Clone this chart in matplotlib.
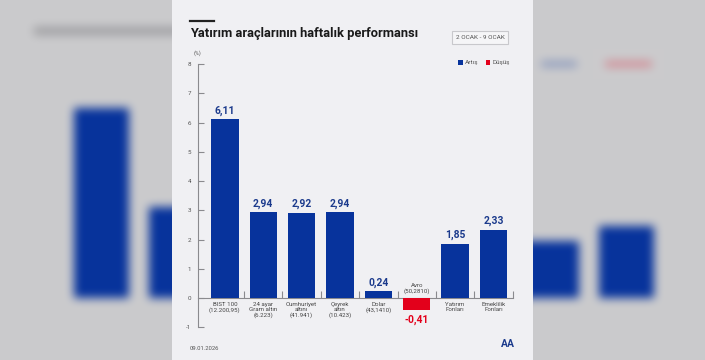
import matplotlib.pyplot as plt
from matplotlib.patches import Rectangle
import numpy as np

plt.rcParams['font.family'] = ['Roboto', 'DejaVu Sans']

categories = ['BIST 100\n(12.200,95)', '24 ayar\nGram altın\n(6.223)', 'Cumhuriyet\naltını\n(41.941)',
              'Çeyrek\naltın\n(10.423)', 'Dolar\n(43,1410)', 'Avro\n(50,2810)',
              'Yatırım\nFonları', 'Emeklilik\nFonları']
values = [6.11, 2.94, 2.92, 2.94, 0.24, -0.41, 1.85, 2.33]
value_labels = ['6,11', '2,94', '2,92', '2,94', '0,24', '-0,41', '1,85', '2,33']
y_ticks = [-1, 0, 1, 2, 3, 4, 5, 6, 7, 8]

BLUE = '#07339c'
RED = '#e3001b'
PANEL = '#f0f0f3'
W, H = 705, 360


def blur(img, r, n=3):
    # repeated box blur along both axes
    k = np.ones(2 * r + 1) / (2 * r + 1)
    out = img.copy()
    for _ in range(n):
        for ax_ in (0, 1):
            pad = [(r, r) if a == ax_ else (0, 0) for a in range(3)]
            p = np.pad(out, pad, mode='edge')
            out = np.apply_along_axis(lambda m: np.convolve(m, k, mode='valid'), ax_, p)
    return out


# stretched copy of the chart, rendered then blurred for the backdrop
bfig = plt.figure(figsize=(W / 100, H / 100), dpi=100)
bfig.patch.set_facecolor('#cbcbcd')
bg = bfig.add_axes([0, 0, 1, 1])
bg.set_xlim(-1.353, 8.047)
bg.set_ylim(-2.0, 9.6)
bg.axis('off')
x = np.arange(len(values))
bg.bar(x, values, width=0.73, color=[BLUE if v >= 0 else RED for v in values], lw=0)
bg.plot([-0.85, 1.3], [8.6, 8.6], color='#8f8f92', lw=6, alpha=0.7)
bg.plot([5.9, 6.3], [7.55, 7.55], color=BLUE, lw=4, alpha=0.35)
bg.plot([6.75, 7.3], [7.55, 7.55], color=RED, lw=4, alpha=0.35)
bfig.canvas.draw()
img = np.asarray(bfig.canvas.buffer_rgba())[:, :, :3].astype(float) / 255
plt.close(bfig)
img = blur(img, 4, 3)

fig = plt.figure(figsize=(W / 100, H / 100), dpi=100)
fig.figimage(np.clip(img, 0, 1), xo=0, yo=0, origin='upper', zorder=0)

# central panel
fig.add_artist(Rectangle((172 / W, 0), 361 / W, 1, transform=fig.transFigure,
                         facecolor=PANEL, edgecolor='none', zorder=1))

ax = fig.add_axes([198 / W, 32.7 / H, 314.7 / W, 263.3 / H], zorder=2)
ax.patch.set_alpha(0)
ax.bar(x, values, width=0.715, color=[BLUE if v >= 0 else RED for v in values], zorder=3)
ax.set_xlim(-0.7, 7.5)
ax.set_ylim(-1, 8)

for s in ['top', 'right']:
    ax.spines[s].set_visible(False)
ax.spines['bottom'].set_position(('data', 0))
ax.spines['bottom'].set_bounds(-0.7, 7.5)
for s in ['left', 'bottom']:
    ax.spines[s].set_color('#8a8a8e')
    ax.spines[s].set_linewidth(0.8)
ax.set_xticks(np.arange(0.5, 8, 1))
ax.set_xticklabels([])
ax.tick_params(axis='x', direction='in', length=5, color='#8a8a8e', width=0.8)
ax.set_yticks(y_ticks)
ax.set_yticklabels([str(t) for t in y_ticks])
ax.tick_params(axis='y', direction='in', length=4, color='#8a8a8e', width=0.8,
               labelsize=4.5, labelcolor='#555555', pad=5)

for i, (v, lab, cat) in enumerate(zip(values, value_labels, categories)):
    if v >= 0:
        ax.annotate(lab, (i, v), xytext=(0, 2.5), textcoords='offset points', ha='center',
                    va='bottom', fontsize=7.4, fontweight='bold', color='#1b3a8c')
        ax.annotate(cat, (i, 0), xytext=(0, -3), textcoords='offset points', ha='center',
                    va='top', fontsize=4.4, color='#444444', linespacing=1.05)
    else:
        ax.annotate(lab, (i, v), xytext=(0, -3), textcoords='offset points', ha='center',
                    va='top', fontsize=7.4, fontweight='bold', color=RED)
        ax.annotate(cat, (i, 0), xytext=(0, 3), textcoords='offset points', ha='center',
                    va='bottom', fontsize=4.4, color='#444444', linespacing=1.05)

ax.text(0, 1.03, '(%)', transform=ax.transAxes, ha='center', va='bottom', fontsize=4, color='#555555')

# header
fig.add_artist(plt.Line2D([190 / W, 214 / W], [1 - 21 / H] * 2, color='#222222', lw=1.6, zorder=4))
fig.text(190 / W, 1 - 34 / H, 'Yatırım araçlarının haftalık performansı', ha='left', va='center',
         fontsize=9.3, fontweight='bold', color='#1a1a1a', zorder=4)
fig.text(480 / W, 1 - 37.5 / H, '2 OCAK - 9 OCAK', ha='center', va='center', fontsize=4.6,
         color='#555555', zorder=4,
         bbox=dict(boxstyle='square,pad=0.6', facecolor='#f5f5f7', edgecolor='#c8c8cc', lw=0.8))

# legend
for xs, col, lab in [(458, BLUE, 'Artış'), (486, RED, 'Düşüş')]:
    fig.add_artist(Rectangle((xs / W, 1 - 64.5 / H), 4.5 / W, 4.5 / H, transform=fig.transFigure,
                             facecolor=col, edgecolor='none', zorder=4))
    fig.text((xs + 6.5) / W, 1 - 62.5 / H, lab, ha='left', va='center', fontsize=4.6,
             color='#555555', zorder=4)

fig.text(190 / W, 1 - 348 / H, '09.01.2026', ha='left', va='center', fontsize=4.2, color='#555555', zorder=4)
fig.text(508 / W, 1 - 344 / H, 'AA', ha='center', va='center', fontsize=7.5, fontweight='bold',
         color='#1b3a8c', zorder=4)

fig.savefig('out.png', dpi=100)
